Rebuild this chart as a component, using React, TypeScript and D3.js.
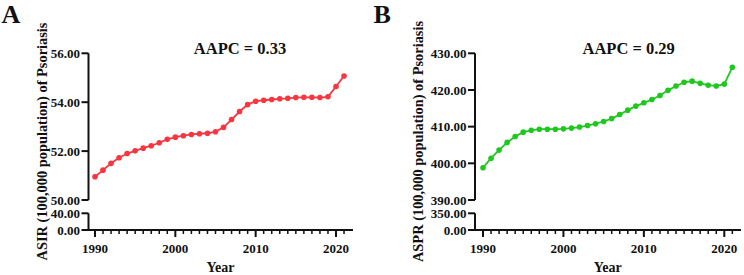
import React from "react";
import * as d3 from "d3";

const years: number[] = d3.range(1990, 2022);
const asirValues: number[] = [
  50.95, 51.22, 51.5, 51.73, 51.9, 52.01, 52.12, 52.22, 52.34, 52.48,
  52.57, 52.63, 52.68, 52.71, 52.73, 52.79, 52.97, 53.29, 53.62, 53.9,
  54.04, 54.08, 54.11, 54.14, 54.16, 54.19, 54.2, 54.2, 54.19, 54.22,
  54.64, 55.07,
];
const asprValues: number[] = [
  398.8, 401.4, 403.6, 405.7, 407.3, 408.5, 409.0, 409.3, 409.3, 409.3,
  409.4, 409.6, 409.9, 410.3, 410.8, 411.4, 412.2, 413.3, 414.5, 415.6,
  416.5, 417.4, 418.5, 419.9, 421.1, 422.1, 422.4, 421.8, 421.3, 421.1,
  421.6, 426.2,
];
const xTickLabels: number[] = [1990, 2000, 2010, 2020];
const asirUpperTicks: number[] = [50, 52, 54, 56];
const asirLowerTicks: number[] = [0, 40];
const asprUpperTicks: number[] = [390, 400, 410, 420, 430];
const asprLowerTicks: number[] = [0, 350];

const FONT = "'Liberation Serif', 'Times New Roman', serif";

type PanelProps = {
  ox: number;
  letter: string;
  yTitle: string;
  aapc: string;
  values: number[];
  color: string;
  upperTicks: number[];
  lowerTicks: number[];
  axisX: number;
  xStart: number;
  xEnd: number;
  xRange: [number, number];
  aapcX: number;
  titleX: number;
};

function Panel(p: PanelProps) {
  const upperTop = 53.3;
  const upperBottom = 200;
  const lowerTop = 213.3;
  const lowerBottom = 230;
  const yUpper = d3
    .scaleLinear()
    .domain([p.upperTicks[0], p.upperTicks[p.upperTicks.length - 1]])
    .range([upperBottom, upperTop]);
  const yLower = d3
    .scaleLinear()
    .domain([p.lowerTicks[0], p.lowerTicks[p.lowerTicks.length - 1]])
    .range([lowerBottom, lowerTop]);
  const x = d3.scaleLinear().domain([1990, 2020]).range(p.xRange);
  const line = d3
    .line<number>()
    .x((_, i) => x(years[i]))
    .y((v) => yUpper(v));
  const tickLen = 7;
  const fs = 13;
  return (
    <g transform={`translate(${p.ox},0)`} style={{ fontFamily: FONT, fontWeight: "bold" }}>
      <text x={1.5} y={22.5} fontSize={26} fill="#111">
        {p.letter}
      </text>
      <text
        transform={`translate(${p.titleX},141.5) rotate(-90)`}
        textAnchor="middle"
        fontSize={14.4}
        fill="#111"
      >
        {p.yTitle}
      </text>
      <text x={p.aapcX} y={54} textAnchor="middle" fontSize={16.5} fill="#111">
        {p.aapc}
      </text>
      <g stroke="#111" strokeWidth={2} fill="none">
        <line x1={p.axisX} x2={p.axisX} y1={upperTop} y2={upperBottom} />
        <line x1={p.axisX} x2={p.axisX} y1={lowerTop} y2={lowerBottom} />
        {p.upperTicks.map((t) => (
          <line key={"u" + t} x1={p.axisX - tickLen} x2={p.axisX} y1={yUpper(t)} y2={yUpper(t)} />
        ))}
        {p.lowerTicks.map((t) => (
          <line key={"l" + t} x1={p.axisX - tickLen} x2={p.axisX} y1={yLower(t)} y2={yLower(t)} />
        ))}
        <line x1={p.xStart} x2={p.xEnd} y1={lowerBottom} y2={lowerBottom} />
        {years.map((yr) => {
          const major = yr % 10 === 0;
          return (
            <line
              key={"x" + yr}
              x1={x(yr)}
              x2={x(yr)}
              y1={lowerBottom}
              y2={lowerBottom + (major ? 7 : 4)}
              strokeWidth={major ? 2 : 1.5}
            />
          );
        })}
      </g>
      {p.upperTicks.map((t) => (
        <text
          key={"ut" + t}
          x={p.axisX - tickLen - 1.5}
          y={yUpper(t)}
          dy="0.35em"
          textAnchor="end"
          fontSize={fs}
          fill="#111"
        >
          {t.toFixed(2)}
        </text>
      ))}
      {p.lowerTicks.map((t) => (
        <text
          key={"lt" + t}
          x={p.axisX - tickLen - 1.5}
          y={yLower(t)}
          dy="0.35em"
          textAnchor="end"
          fontSize={fs}
          fill="#111"
        >
          {t.toFixed(2)}
        </text>
      ))}
      {xTickLabels.map((t) => (
        <text key={"xt" + t} x={x(t)} y={252.5} textAnchor="middle" fontSize={fs} fill="#111">
          {t}
        </text>
      ))}
      <text x={(p.xStart + p.xEnd) / 2} y={271.5} textAnchor="middle" fontSize={14} fill="#111">
        Year
      </text>
      <path d={line(p.values) || ""} fill="none" stroke={p.color} strokeWidth={1.8} />
      {p.values.map((v, i) => (
        <circle key={"c" + i} cx={x(years[i])} cy={yUpper(v)} r={2.8} fill={p.color} />
      ))}
    </g>
  );
}

export default function App() {
  return (
    <svg width={744} height={275} style={{ position: "absolute", left: 0, top: 0, background: "#fff" }}>
      <rect width={744} height={275} fill="#fff" />
      <Panel
        ox={0}
        letter="A"
        yTitle="ASIR (100,000 population) of Psoriasis"
        aapc="AAPC = 0.33"
        values={asirValues}
        color="#f7363f"
        upperTicks={asirUpperTicks}
        lowerTicks={asirLowerTicks}
        axisX={88.5}
        xStart={88}
        xEnd={353}
        xRange={[95, 336]}
        aapcX={240}
        titleX={46.5}
      />
      <Panel
        ox={372}
        letter="B"
        yTitle="ASPR (100,000 population) of Psoriasis"
        aapc="AAPC = 0.29"
        values={asprValues}
        color="#1ec81e"
        upperTicks={asprUpperTicks}
        lowerTicks={asprLowerTicks}
        axisX={103}
        xStart={102.5}
        xEnd={369}
        xRange={[111, 352.3]}
        aapcX={256.7}
        titleX={51}
      />
    </svg>
  );
}
